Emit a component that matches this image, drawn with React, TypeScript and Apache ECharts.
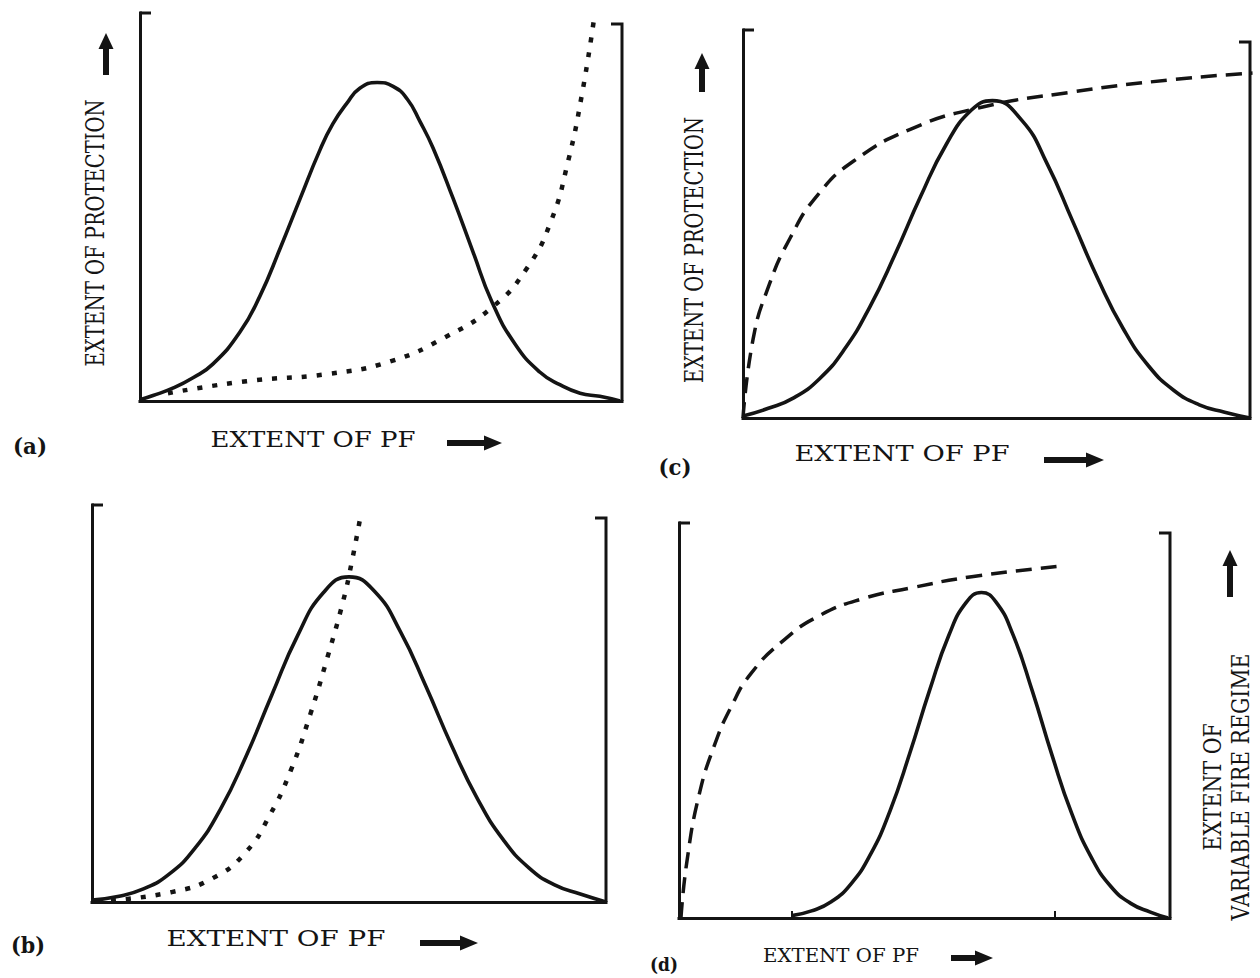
import React, { useEffect, useRef } from "react";
import * as echarts from "echarts";

// ---- data (x: extent of PF, % of axis; y: response, % of axis height) ----
const aSolid = [[0,0.3],[2.7,1.4],[6.8,3.3],[11,6],[15.1,9.5],[20.7,17.7],[24.9,27.1],[29,39.1],[33.2,52.1],[37.3,64.6],[40,71.4],[42.9,76.7],[45.6,80.6],[49.2,82.1],[52.5,81.1],[55.4,77.9],[58.1,72],[60.8,65.2],[64.9,52.4],[69.1,38.4],[73,25.6],[77.8,14.7],[83,7.4],[87.1,4.2],[91.3,2],[95.4,1.2],[99.6,0]];
const aDotted = [[5.8,2],[22.1,5.1],[39.2,7],[51.9,10.2],[63.1,16.3],[73.3,24.4],[80.2,34.1],[85.2,46.1],[88.8,61.7],[91.7,79.1],[94.2,98.5]];
const bSolid = [[0,0.5],[5,1.4],[10,3.3],[15,7],[20,13.5],[25,23.4],[30,36.8],[35,52.2],[40,67.1],[45,77.9],[50,81.9],[55,78.2],[60,68.1],[65,54.2],[70,39.3],[75,26],[80,15.7],[85,8.6],[90,4.3],[95,2],[100,0]];
const bDotted = [[3.7,0.4],[15.5,2.5],[23.5,6],[29.9,12.5],[34.6,21.9],[38.6,32.9],[42.5,47.4],[45.8,61.6],[48.9,76],[50.5,85.4],[52.4,98.3]];
const cSolid = [[0,0.5],[5,2.5],[10,5.2],[15,10],[20,17.7],[25,28.6],[30,42.2],[35,57],[40,70.3],[45,79.3],[49.2,81.8],[55,76.7],[60,65.5],[65,50.8],[70,35.9],[75,23],[80,13.4],[85,7.1],[90,3.4],[95,1.5],[100,0]];
const cDashed = [[0,0],[2,20.4],[4.9,33.4],[9.3,46.4],[14.8,57.6],[21.9,66.3],[33,74.4],[46.4,79.9],[64.8,84],[84.6,87.2],[100.5,88.9]];
const dSolid = [[23,0.6],[27,1.8],[31,4.1],[35,8.6],[39,16.1],[43,27.2],[47,41.7],[51,57.5],[55,71.7],[58.5,79.9],[61.6,82.4],[64.5,80.1],[68,71.8],[72,57.3],[76,41.1],[80,26.4],[84,15.3],[88,7.9],[92,3.7],[96,1.5],[99.6,0]];
const dDashed = [[0.4,0],[1.6,14.2],[4.1,31.2],[7.3,44],[10.6,53.4],[14.6,61.8],[21.3,70.3],[28.7,76.6],[37.6,80.9],[47.4,83.6],[59.6,86.4],[78,89.1]];
const dTicks = [23, 76.6];

const panelLetters = ["(a)", "(b)", "(c)", "(d)"];
const xTitle = "EXTENT OF PF";
const yTitle = "EXTENT OF PROTECTION";
const dTitle = "EXTENT OF\nVARIABLE FIRE REGIME";

const INK = "#141414";
const FONT = '"DejaVu Serif", "Liberation Serif", serif';

let measureCtx: CanvasRenderingContext2D | null = null;
function textWidth(text: string, size: number, weight = "normal") {
  if (!measureCtx) measureCtx = document.createElement("canvas").getContext("2d");
  if (!measureCtx) return text.length * size * 0.6;
  measureCtx.font = `${weight} ${size}px ${FONT}`;
  return Math.max(...text.split("\n").map((l) => measureCtx!.measureText(l).width));
}

function label(text: string, x: number, y: number, targetLen: number, size: number, rotate = false, weight = "normal", lineHeight = 28) {
  const s = targetLen / textWidth(text, size, weight);
  return {
    type: "text",
    x, y,
    rotation: rotate ? Math.PI / 2 : 0,
    scaleX: s,
    style: {
      text, fill: INK,
      font: `${weight} ${size}px ${FONT}`,
      fontSize: size, fontFamily: FONT, fontWeight: weight,
      lineHeight,
      align: "center", verticalAlign: "middle",
      textAlign: "center", textVerticalAlign: "middle",
    },
  };
}

function upArrow(cx: number, top: number, bottom: number) {
  return {
    type: "polygon",
    shape: { points: [[cx, top], [cx + 7.5, top + 16], [cx + 3, top + 16], [cx + 3, bottom], [cx - 3, bottom], [cx - 3, top + 16], [cx - 7.5, top + 16]] },
    style: { fill: INK },
  };
}
function rightArrow(cy: number, left: number, right: number) {
  return {
    type: "polygon",
    shape: { points: [[right, cy], [right - 18, cy - 7.5], [right - 18, cy - 3], [left, cy - 3], [left, cy + 3], [right - 18, cy + 3], [right - 18, cy + 7.5]] },
    style: { fill: INK },
  };
}
function bracket(points: number[][]) {
  return { type: "polyline", shape: { points }, style: { stroke: INK, lineWidth: 3, fill: null } };
}

// panel frames in px: left, top, right, bottom, top of right bracket
const frames = [
  { l: 140, t: 13, r: 622, b: 401, rt: 24 },   // a
  { l: 92, t: 505, r: 606, b: 902, rt: 518 },  // b
  { l: 743, t: 30, r: 1250, b: 418, rt: 42 },  // c
  { l: 679, t: 523, r: 1170, b: 918, rt: 533 }, // d
];

export default function App() {
  const ref = useRef<HTMLDivElement>(null);
  useEffect(() => {
    if (!ref.current) return;
    const chart = echarts.init(ref.current, undefined, { renderer: "svg" });

    const grid = frames.map((f) => ({ left: f.l, top: f.t, width: f.r - f.l, height: f.b - f.t, containLabel: false }));
    const axisLine = { show: true, onZero: false, lineStyle: { color: INK, width: 3, cap: "square" } };
    const xAxis = frames.map((_, i) => ({
      type: "value", gridIndex: i, min: 0, max: 100,
      axisLine,
      axisTick: i === 3
        ? { show: true, inside: true, length: 7, lineStyle: { color: INK, width: 2 }, customValues: dTicks }
        : { show: false },
      axisLabel: { show: false },
      splitLine: { show: false },
    }));
    const yAxis = frames.map((_, i) => ({
      type: "value", gridIndex: i, min: 0, max: 100,
      axisLine,
      axisTick: { show: false }, axisLabel: { show: false }, splitLine: { show: false },
    }));

    const solid = { color: INK, width: 3.6, type: "solid" };
    const dotted = { color: INK, width: 4.5, type: [5, 10] };
    const dashed = { color: INK, width: 3.5, type: [16, 9] };
    const mk = (data: number[][], idx: number, lineStyle: any) => ({
      type: "line", data, xAxisIndex: idx, yAxisIndex: idx,
      smooth: 0.5, showSymbol: false, symbol: "none", clip: false,
      lineStyle, silent: true,
    });
    const series = [
      mk(aSolid, 0, solid), mk(aDotted, 0, dotted),
      mk(bSolid, 1, solid), mk(bDotted, 1, dotted),
      mk(cSolid, 2, solid), mk(cDashed, 2, dashed),
      mk(dSolid, 3, solid), mk(dDashed, 3, dashed),
    ];

    const graphic: any[] = [];
    frames.forEach((f) => {
      graphic.push(bracket([[f.l, f.t], [f.l + 11, f.t]]));
      graphic.push(bracket([[f.r, f.b], [f.r, f.rt], [f.r - 11, f.rt]]));
    });
    graphic.push(
      label(yTitle, 95, 233, 267, 26, true),
      label(yTitle, 694, 250, 266, 26, true),
      label(dTitle, 1226, 787, 267, 24, true, "normal", 28),
      label(xTitle, 313, 440, 205, 22),
      label(xTitle, 276, 939, 219, 22),
      label(xTitle, 902, 453, 215, 22),
      label(xTitle, 841, 955, 156, 18),
      label(panelLetters[0], 30, 446, 34, 22, false, "bold"),
      label(panelLetters[1], 28, 945, 34, 22, false, "bold"),
      label(panelLetters[2], 675, 467, 33, 22, false, "bold"),
      label(panelLetters[3], 664, 964, 28, 19, false, "bold"),
      upArrow(106, 33, 75),
      upArrow(702, 53, 92),
      upArrow(1230, 550, 597),
      rightArrow(443, 447, 502),
      rightArrow(943, 420, 478),
      rightArrow(460, 1044, 1104),
      rightArrow(958, 951, 993),
    );

    chart.setOption({
      animation: false,
      backgroundColor: "#ffffff",
      grid, xAxis, yAxis, series, graphic,
    });
    return () => chart.dispose();
  }, []);
  return <div ref={ref} style={{ position: "fixed", left: 0, top: 0, width: 1260, height: 978 }} />;
}
